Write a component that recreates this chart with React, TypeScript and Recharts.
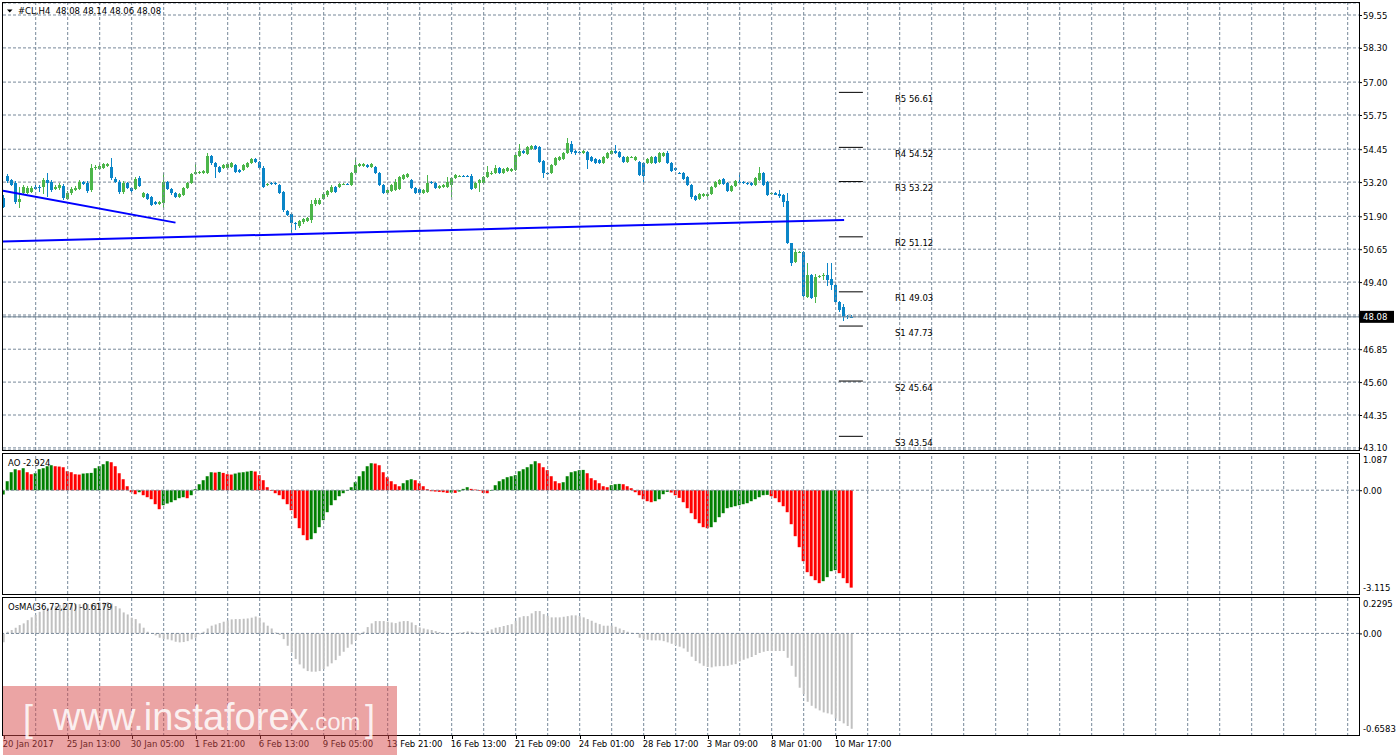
import React from "react";
import {
  ComposedChart,
  Bar,
  Cell,
  XAxis,
  YAxis,
  CartesianGrid,
  ReferenceLine,
  ReferenceDot,
} from "recharts";

// #CL H4 candles, oldest first: [open, high, low, close]
const ohlc: number[][] = [
  [52.6, 52.71, 52.22, 52.25], [53.43, 53.51, 53.17, 53.24], [53.28, 53.32, 53.05, 53.09], [53.17, 53.24, 52.37, 52.44],
  [52.44, 53.01, 52.22, 52.56], [52.79, 53.09, 52.71, 53.01], [52.79, 53.05, 52.75, 52.98], [52.82, 53.05, 52.79, 52.98],
  [53.01, 53.09, 52.9, 52.94], [53.01, 53.09, 52.82, 52.98], [53.01, 53.36, 52.75, 53.28], [53.28, 53.55, 52.63, 53.17],
  [53.2, 53.28, 52.82, 52.9], [52.94, 53.09, 52.9, 53.01], [52.98, 53.17, 52.9, 53.09], [53.05, 53.13, 52.52, 52.6],
  [52.56, 52.86, 52.52, 52.79], [52.79, 53.01, 52.71, 52.94], [52.9, 53.05, 52.86, 52.98], [52.94, 53.28, 52.9, 53.2],
  [53.2, 53.24, 53.09, 53.13], [53.17, 53.24, 52.79, 52.86], [52.9, 53.89, 52.82, 53.74], [53.74, 53.85, 53.66, 53.77],
  [53.7, 53.89, 53.66, 53.81], [53.74, 53.93, 53.7, 53.89], [53.81, 53.93, 53.77, 53.89], [53.77, 54.12, 53.28, 53.36],
  [53.32, 53.39, 53.17, 53.2], [53.2, 53.28, 52.75, 52.82], [52.82, 53.24, 52.75, 53.17], [53.17, 53.2, 52.94, 52.98],
  [52.98, 53.01, 52.79, 52.86], [52.94, 53.39, 52.9, 53.32], [53.36, 53.43, 53.01, 53.05], [52.63, 52.82, 52.6, 52.79],
  [52.75, 52.79, 52.52, 52.56], [52.63, 52.67, 52.29, 52.33], [52.44, 52.48, 52.33, 52.37], [52.37, 52.48, 52.33, 52.44],
  [52.41, 53.55, 52.22, 53.2], [53.2, 53.24, 52.9, 52.94], [52.94, 52.98, 52.71, 52.79], [52.79, 52.82, 52.6, 52.63],
  [52.63, 52.79, 52.6, 52.75], [52.71, 53.01, 52.67, 52.98], [52.98, 53.2, 52.94, 53.17], [53.17, 53.55, 53.13, 53.51],
  [53.51, 53.89, 53.47, 53.58], [53.58, 53.62, 53.51, 53.59], [53.55, 53.66, 53.51, 53.62], [53.55, 54.31, 53.51, 54.19],
  [54.19, 54.23, 53.85, 53.93], [53.93, 53.96, 53.36, 53.77], [53.77, 53.81, 53.55, 53.58], [53.74, 53.89, 53.7, 53.85],
  [53.74, 53.93, 53.7, 53.89], [53.77, 53.96, 53.74, 53.93], [53.85, 53.89, 53.55, 53.58], [53.66, 53.7, 53.55, 53.58],
  [53.66, 53.89, 53.62, 53.85], [53.77, 53.96, 53.74, 53.93], [53.93, 54.12, 53.89, 54.08], [54.08, 54.12, 53.93, 53.96],
  [53.96, 54.0, 53.7, 53.74], [53.74, 53.81, 52.98, 53.01], [53.09, 53.17, 53.05, 53.13], [53.17, 53.2, 53.09, 53.13],
  [53.17, 53.2, 53.09, 53.13], [53.09, 53.13, 52.75, 52.79], [52.82, 52.86, 52.06, 52.14], [52.1, 52.14, 51.91, 51.95],
  [51.99, 52.03, 51.27, 51.65], [51.65, 51.68, 51.38, 51.61], [51.53, 51.76, 51.46, 51.72], [51.68, 51.84, 51.61, 51.8],
  [51.72, 51.87, 51.68, 51.84], [51.76, 52.52, 51.65, 52.37], [52.37, 52.6, 52.29, 52.52], [52.37, 52.6, 52.33, 52.52],
  [52.56, 52.82, 52.52, 52.75], [52.71, 52.9, 52.63, 52.86], [52.82, 53.09, 52.79, 53.01], [53.01, 53.05, 52.79, 52.82],
  [53.01, 53.17, 52.98, 53.13], [53.13, 53.17, 53.09, 53.14], [53.13, 53.17, 53.09, 53.12], [53.09, 53.58, 53.05, 53.55],
  [53.55, 54.12, 53.51, 53.85], [53.81, 53.93, 53.77, 53.89], [53.81, 53.93, 53.77, 53.89], [53.85, 53.89, 53.74, 53.77],
  [53.77, 53.93, 53.74, 53.89], [53.77, 53.81, 53.51, 53.55], [53.55, 53.58, 53.05, 53.09], [53.09, 53.13, 52.75, 52.79],
  [52.79, 52.94, 52.75, 52.9], [52.86, 53.13, 52.82, 53.09], [52.9, 53.32, 52.86, 53.2], [52.94, 53.43, 52.9, 53.39],
  [53.32, 53.51, 53.28, 53.47], [53.39, 53.55, 53.36, 53.51], [53.28, 53.32, 52.94, 52.98], [52.98, 53.01, 52.75, 52.79],
  [52.94, 52.98, 52.71, 52.79], [52.79, 52.94, 52.75, 52.9], [52.82, 53.47, 52.79, 53.17], [53.2, 53.24, 53.13, 53.17],
  [53.17, 53.2, 52.94, 52.98], [52.98, 53.09, 52.94, 53.05], [53.01, 53.13, 52.98, 53.09], [53.01, 53.39, 52.98, 53.2],
  [53.09, 53.39, 52.63, 53.36], [53.36, 53.51, 53.32, 53.47], [53.43, 53.47, 53.39, 53.44], [53.43, 53.47, 53.39, 53.42],
  [53.43, 53.47, 53.39, 53.42], [53.43, 53.51, 52.9, 52.94], [52.98, 53.2, 52.94, 53.17], [53.17, 53.32, 52.82, 53.28],
  [53.17, 53.43, 53.13, 53.39], [53.39, 53.81, 53.36, 53.58], [53.55, 53.62, 53.47, 53.56], [53.55, 53.85, 53.51, 53.74],
  [53.74, 53.77, 53.51, 53.55], [53.55, 53.74, 53.51, 53.7], [53.62, 53.77, 53.58, 53.74], [53.62, 53.74, 53.58, 53.7],
  [53.66, 54.27, 53.62, 54.23], [54.19, 54.65, 54.15, 54.38], [54.38, 54.42, 54.27, 54.31], [54.27, 54.57, 54.23, 54.53],
  [54.46, 54.61, 54.42, 54.57], [54.57, 54.61, 54.42, 54.46], [54.53, 54.57, 53.93, 53.96], [54.0, 54.04, 53.36, 53.55],
  [53.55, 53.58, 53.47, 53.54], [53.55, 53.89, 53.51, 53.85], [53.85, 54.15, 53.81, 54.12], [54.04, 54.19, 54.0, 54.15],
  [54.08, 54.34, 54.04, 54.31], [54.31, 54.88, 54.27, 54.69], [54.65, 54.76, 54.27, 54.34], [54.38, 54.42, 54.23, 54.31],
  [54.34, 54.38, 54.27, 54.3], [54.31, 54.42, 54.27, 54.38], [54.34, 54.38, 53.7, 54.04], [54.15, 54.19, 53.96, 54.0],
  [54.08, 54.12, 53.89, 53.93], [54.04, 54.08, 53.89, 53.93], [53.93, 54.19, 53.89, 54.15], [54.12, 54.34, 54.08, 54.31],
  [54.27, 54.42, 54.23, 54.38], [54.38, 54.61, 54.27, 54.31], [54.34, 54.38, 54.12, 54.15], [54.15, 54.19, 53.93, 53.96],
  [53.96, 54.19, 53.93, 54.15], [54.15, 54.19, 54.12, 54.16], [54.04, 54.19, 54.0, 54.15], [53.96, 54.0, 53.43, 53.47],
  [53.93, 53.96, 53.17, 53.43], [53.93, 54.12, 53.89, 54.08], [53.93, 54.19, 53.89, 54.15], [54.15, 54.19, 53.89, 53.93],
  [53.96, 54.34, 53.93, 54.31], [54.19, 54.34, 54.15, 54.31], [54.31, 54.38, 53.89, 53.93], [53.93, 53.96, 53.58, 53.62],
  [53.74, 53.77, 53.62, 53.66], [53.55, 53.58, 53.51, 53.54], [53.55, 53.58, 53.28, 53.32], [53.39, 53.43, 53.05, 53.09],
  [53.09, 53.13, 52.56, 52.63], [52.67, 52.71, 52.48, 52.52], [52.56, 52.79, 52.52, 52.75], [52.67, 52.79, 52.63, 52.75],
  [52.67, 52.79, 52.63, 52.75], [52.75, 53.05, 52.71, 53.01], [53.01, 53.24, 52.98, 53.2], [53.13, 53.32, 53.09, 53.28],
  [53.32, 53.36, 53.09, 53.13], [53.17, 53.2, 52.82, 52.86], [52.86, 53.09, 52.82, 53.05], [53.05, 53.28, 53.01, 53.24],
  [53.2, 53.55, 53.13, 53.17], [53.2, 53.24, 53.13, 53.17], [53.17, 53.2, 53.09, 53.13], [53.17, 53.2, 53.05, 53.09],
  [53.09, 53.39, 53.05, 53.36], [53.28, 53.77, 53.24, 53.55], [53.55, 53.58, 53.05, 53.09], [53.2, 53.24, 52.67, 52.71],
  [52.75, 52.82, 52.71, 52.79], [52.79, 52.82, 52.71, 52.71], [52.75, 52.9, 52.6, 52.67], [52.71, 52.75, 52.25, 52.44],
  [52.48, 52.79, 50.85, 50.89], [50.89, 50.89, 50.01, 50.13], [50.16, 50.66, 50.13, 50.54], [50.54, 50.58, 50.51, 50.55],
  [50.54, 50.58, 48.83, 48.87], [48.83, 50.13, 48.8, 49.67], [49.67, 49.71, 48.76, 48.8], [48.83, 49.71, 48.61, 49.59],
  [49.59, 49.67, 49.56, 49.63], [49.63, 49.75, 49.48, 49.67], [49.67, 50.13, 49.25, 49.48], [49.52, 50.13, 49.1, 49.29],
  [49.29, 49.33, 48.61, 48.64], [48.64, 48.68, 48.26, 48.34], [48.45, 48.57, 47.92, 48.08], [48.11, 48.15, 48.0, 48.08],
  [48.08, 48.14, 48.06, 48.08],
];

// Awesome Oscillator, one value per candle
const ao: number[] = [
  -0.13, 0.27, 0.54, 0.63, 0.6, 0.66, 0.54, 0.48, 0.51, 0.63,
  0.66, 0.72, 0.75, 0.72, 0.71, 0.69, 0.57, 0.54, 0.48, 0.47,
  0.5, 0.51, 0.52, 0.66, 0.72, 0.78, 0.87, 0.84, 0.72, 0.51,
  0.33, 0.12, -0.06, -0.12, -0.06, -0.15, -0.21, -0.27, -0.42, -0.57,
  -0.45, -0.4, -0.36, -0.3, -0.24, -0.21, -0.24, -0.15, 0.03, 0.18,
  0.3, 0.42, 0.54, 0.53, 0.55, 0.52, 0.48, 0.47, 0.5, 0.53,
  0.54, 0.56, 0.58, 0.56, 0.45, 0.3, 0.09, -0.02, -0.09, -0.15,
  -0.27, -0.42, -0.6, -0.84, -1.14, -1.35, -1.5, -1.47, -1.29, -1.11,
  -0.9, -0.66, -0.45, -0.3, -0.18, -0.09, -0.02, 0.09, 0.24, 0.42,
  0.57, 0.72, 0.81, 0.8, 0.75, 0.54, 0.39, 0.27, 0.18, 0.12,
  0.21, 0.3, 0.33, 0.3, 0.21, 0.12, 0.03, -0.03, -0.04, -0.05,
  -0.06, -0.08, -0.07, -0.08, -0.04, 0.04, 0.09, 0.04, 0.02, -0.02,
  -0.08, -0.09, -0.02, 0.15, 0.27, 0.33, 0.39, 0.42, 0.45, 0.57,
  0.63, 0.69, 0.78, 0.87, 0.81, 0.69, 0.6, 0.42, 0.27, 0.21,
  0.24, 0.42, 0.54, 0.57, 0.6, 0.61, 0.51, 0.36, 0.3, 0.21,
  0.12, 0.09, 0.15, 0.18, 0.19, 0.18, 0.12, 0.06, -0.06, -0.15,
  -0.27, -0.33, -0.36, -0.33, -0.27, -0.12, -0.05, -0.07, -0.15, -0.23,
  -0.36, -0.54, -0.69, -0.87, -0.99, -1.11, -1.14, -1.11, -0.96, -0.81,
  -0.69, -0.54, -0.51, -0.48, -0.45, -0.42, -0.39, -0.33, -0.27, -0.21,
  -0.15, -0.14, -0.18, -0.24, -0.36, -0.48, -0.66, -1.02, -1.38, -1.71,
  -2.13, -2.46, -2.58, -2.7, -2.79, -2.73, -2.61, -2.43, -2.4, -2.49,
  -2.64, -2.79, -2.924,
];

// OsMA(36,72,27), one value per candle
const osma: number[] = [
  -0.058, 0.011, 0.022, 0.037, 0.054, 0.065, 0.086, 0.104, 0.119, 0.14,
  0.151, 0.166, 0.173, 0.179, 0.184, 0.188, 0.19, 0.192, 0.19, 0.19,
  0.19, 0.19, 0.19, 0.194, 0.201, 0.201, 0.203, 0.194, 0.177, 0.162,
  0.136, 0.123, 0.102, 0.093, 0.065, 0.037, 0.011, 0.0, -0.013, -0.028,
  -0.035, -0.039, -0.045, -0.054, -0.058, -0.056, -0.05, -0.039, -0.028, -0.006,
  0.011, 0.032, 0.05, 0.058, 0.067, 0.076, 0.084, 0.091, 0.093, 0.093,
  0.095, 0.097, 0.102, 0.11, 0.102, 0.071, 0.05, 0.032, 0.006, -0.01,
  -0.037, -0.08, -0.123, -0.166, -0.201, -0.227, -0.244, -0.248, -0.248, -0.244,
  -0.231, -0.214, -0.194, -0.173, -0.145, -0.119, -0.093, -0.071, -0.043, -0.011,
  0.011, 0.041, 0.065, 0.08, 0.08, 0.08, 0.076, 0.071, 0.067, 0.076,
  0.08, 0.08, 0.071, 0.054, 0.039, 0.032, 0.026, 0.022, 0.015, 0.009,
  0.004, -0.002, 0.0, 0.002, 0.006, 0.009, 0.013, 0.011, 0.006, 0.004,
  0.006, 0.015, 0.026, 0.037, 0.041, 0.048, 0.054, 0.06, 0.082, 0.104,
  0.112, 0.112, 0.13, 0.145, 0.145, 0.125, 0.114, 0.104, 0.104, 0.104,
  0.108, 0.112, 0.117, 0.117, 0.112, 0.104, 0.093, 0.082, 0.069, 0.06,
  0.05, 0.05, 0.05, 0.043, 0.032, 0.022, 0.011, 0.004, -0.002, -0.028,
  -0.037, -0.041, -0.045, -0.045, -0.045, -0.05, -0.058, -0.067, -0.076, -0.086,
  -0.097, -0.119, -0.151, -0.179, -0.194, -0.21, -0.218, -0.22, -0.214, -0.212,
  -0.212, -0.21, -0.203, -0.199, -0.181, -0.171, -0.162, -0.153, -0.14, -0.127,
  -0.119, -0.114, -0.114, -0.114, -0.114, -0.114, -0.158, -0.21, -0.281, -0.352,
  -0.393, -0.443, -0.469, -0.486, -0.499, -0.512, -0.518, -0.525, -0.551, -0.568,
  -0.583, -0.6, -0.618,
];

const priceTicks = [59.55, 58.3, 57.0, 55.75, 54.45, 53.2, 51.9, 50.65, 49.4, 48.15, 46.85, 45.6, 44.35, 43.1];
const hiddenPriceTick = 48.15;
const lastPrice = 48.08;

const pivotNames = ["R5", "R4", "R3", "R2", "R1", "S1", "S2", "S3"];
const pivotLevels = [56.61, 54.52, 53.22, 51.12, 49.03, 47.73, 45.64, 43.54];
const pivotFrom = 208.8;
const pivotTo = 214.8;

// trend lines as [bar index, price] anchors
const trendA = [{ x: -0.175, y: 52.87 }, { x: 42.95, y: 51.66 }];
const trendB = [{ x: -0.175, y: 50.94 }, { x: 210.1, y: 51.76 }];

const timeIdx = [0, 16, 32, 48, 64, 80, 96, 112, 128, 144, 160, 176, 192, 208];
const timeLabels = [
  "20 Jan 2017", "25 Jan 13:00", "30 Jan 05:00", "1 Feb 21:00", "6 Feb 13:00", "9 Feb 05:00", "13 Feb 21:00",
  "16 Feb 13:00", "21 Feb 09:00", "24 Feb 01:00", "28 Feb 17:00", "3 Mar 09:00", "8 Mar 01:00", "10 Mar 17:00",
];
const gridIdx = Array.from({ length: 42 }, (_, k) => 8 * (k + 1));

const X_MIN = -0.175;
const X_MAX = 338.825;
const P_MIN = 43.02;
const P_MAX = 60.006;
const AO_MAX = 1.087;
const AO_MIN = -3.115;
const OS_MAX = 0.2295;
const OS_MIN = -0.6583;

const FONT = "DejaVu Sans";
const GRID = "#778899";
const BULL = "#4CB64A";
const BEAR = "#0A85C7";

const candles = ohlc.map(([o, h, l, c], i) => ({ i, o, h, l, c, range: [l, h] }));
const aoRows = ao.map((v, i) => ({ i, v, up: i === 0 || v >= ao[i - 1] }));
const osRows = osma.map((v, i) => ({ i, v }));

const Candle = (props: any) => {
  const { x, y, width, height, payload } = props;
  if (!payload || !height) return null;
  const { o, h, l, c } = payload;
  const k = height / (h - l);
  const yOf = (v: number) => y + (h - v) * k;
  const cx = Math.round(x + width / 2);
  const top = yOf(Math.max(o, c));
  const bot = yOf(Math.min(o, c));
  const color = c > o ? BULL : BEAR;
  return (
    <g shapeRendering="crispEdges">
      <line x1={cx + 0.5} x2={cx + 0.5} y1={y} y2={y + height} stroke={color} strokeWidth={1} />
      <rect x={cx - 1} y={Math.round(top)} width={3} height={Math.max(1, Math.round(bot - top))} fill={color} />
    </g>
  );
};

const PriceTick = (props: any) => {
  const { x, y, payload } = props;
  const v = payload.value;
  if (v === hiddenPriceTick) return <g />;
  if (v === lastPrice) {
    return (
      <g>
        <rect x={x + 1} y={y - 6} width={34} height={12} fill="#000" />
        <text x={x + 4} y={y + 3.5} fill="#fff" fontSize={8.5} fontFamily={FONT}>
          {v.toFixed(2)}
        </text>
      </g>
    );
  }
  return (
    <g>
      <line x1={x} x2={x + 3} y1={y + 0.5} y2={y + 0.5} stroke="#000" />
      <text x={x + 4} y={y + 3.5} fill="#000" fontSize={8.5} fontFamily={FONT}>
        {v.toFixed(2)}
      </text>
    </g>
  );
};

const makeSideTick = (top: number, bottom: number, digits: (v: number) => string) => (props: any) => {
  const { x, y, payload } = props;
  const v = payload.value;
  const dy = v === top ? 9 : v === bottom ? -3 : 3.5;
  return (
    <g>
      {v === 0 && <line x1={x} x2={x + 3} y1={y + 0.5} y2={y + 0.5} stroke="#000" />}
      <text x={x + 4} y={y + dy} fill="#000" fontSize={8.5} fontFamily={FONT}>
        {digits(v)}
      </text>
    </g>
  );
};

const AoTick = makeSideTick(AO_MAX, AO_MIN, (v) => (v === 0 ? "0.00" : v.toFixed(3)));
const OsTick = makeSideTick(OS_MAX, OS_MIN, (v) => (v === 0 ? "0.00" : v.toFixed(4)));

const TimeTick = (props: any) => {
  const { x, y, payload } = props;
  const k = timeIdx.indexOf(payload.value);
  if (k < 0) return <g />;
  return (
    <g>
      <line x1={Math.round(x) + 0.5} x2={Math.round(x) + 0.5} y1={y} y2={y + 4} stroke="#000" />
      <text x={x - 1} y={y + 12} fill="#000" fontSize={8.5} fontFamily={FONT}>
        {timeLabels[k]}
      </text>
    </g>
  );
};

const PivotLabel = (name: string, level: number) => (props: any) => (
  <text x={props.cx + 56} y={props.cy + 9.5} fill="#000" fontSize={8.5} fontFamily={FONT}>
    {`${name} ${level.toFixed(2)}`}
  </text>
);

const Box = ({ top, height }: { top: number; height: number }) => (
  <div
    style={{
      position: "absolute",
      left: 2,
      top,
      width: 1356,
      height,
      border: "1px solid #000",
      pointerEvents: "none",
    }}
  />
);

// dashed vertical grid every 8 bars, shared by the upper panels
const vGrid = (prefix: string) =>
  gridIdx.map((g) => (
    <ReferenceLine key={`${prefix}${g}`} x={g} stroke={GRID} strokeDasharray="3 2" />
  ));

export default function App() {
  return (
    <div
      style={{
        position: "absolute",
        left: 0,
        top: 0,
        width: 1398,
        height: 755,
        background: "#fff",
        overflow: "hidden",
        fontFamily: FONT,
      }}
    >
      <div style={{ position: "absolute", left: 0, top: 0 }}>
        <ComposedChart width={1398} height={452} data={candles} margin={{ top: 3, right: 0, bottom: 2, left: 3 }}>
          <CartesianGrid stroke={GRID} strokeDasharray="3 2" vertical={false} />
          <XAxis
            dataKey="i"
            type="number"
            domain={[X_MIN, X_MAX]}
            ticks={gridIdx}
            interval={0}
            tick={false}
            axisLine={false}
            tickLine={false}
            height={0}
            allowDataOverflow
          />
          <YAxis
            orientation="right"
            width={39}
            domain={[P_MIN, P_MAX]}
            ticks={[...priceTicks, lastPrice]}
            interval={0}
            tick={<PriceTick />}
            axisLine={false}
            tickLine={false}
            tickSize={0}
            tickMargin={0}
            allowDataOverflow
          />
          {vGrid("m")}
          <ReferenceLine y={lastPrice} stroke={GRID} strokeWidth={1} />
          <ReferenceLine segment={trendA} stroke="#0000FF" strokeWidth={2} />
          <ReferenceLine segment={trendB} stroke="#0000FF" strokeWidth={2} />
          {pivotLevels.map((p, k) => (
            <ReferenceLine
              key={`pl${k}`}
              segment={[{ x: pivotFrom, y: p }, { x: pivotTo, y: p }]}
              stroke="#000"
              strokeWidth={1}
            />
          ))}
          {pivotLevels.map((p, k) => (
            <ReferenceDot key={`pd${k}`} x={pivotFrom} y={p} r={0} shape={PivotLabel(pivotNames[k], p)} />
          ))}
          <Bar dataKey="range" shape={<Candle />} barSize={3} isAnimationActive={false} />
        </ComposedChart>
      </div>

      <div style={{ position: "absolute", left: 0, top: 451 }}>
        <ComposedChart width={1398} height={145} data={aoRows} margin={{ top: 3, right: 0, bottom: 2, left: 3 }}>
          <XAxis
            dataKey="i"
            type="number"
            domain={[X_MIN, X_MAX]}
            ticks={gridIdx}
            interval={0}
            tick={false}
            axisLine={false}
            tickLine={false}
            height={0}
            allowDataOverflow
          />
          <YAxis
            orientation="right"
            width={39}
            domain={[AO_MIN, AO_MAX]}
            ticks={[AO_MAX, 0, AO_MIN]}
            interval={0}
            tick={<AoTick />}
            axisLine={false}
            tickLine={false}
            tickSize={0}
            tickMargin={0}
            allowDataOverflow
          />
          {vGrid("a")}
          <ReferenceLine y={0} stroke={GRID} strokeDasharray="3 2" />
          <Bar dataKey="v" barSize={3} isAnimationActive={false}>
            {aoRows.map((r) => (
              <Cell key={r.i} fill={r.up ? "#008000" : "#FF0000"} />
            ))}
          </Bar>
        </ComposedChart>
      </div>

      <div style={{ position: "absolute", left: 0, top: 595 }}>
        <ComposedChart width={1398} height={160} data={osRows} margin={{ top: 3, right: 0, bottom: 0, left: 3 }}>
          <CartesianGrid stroke={GRID} strokeDasharray="3 2" horizontal={false} verticalValues={gridIdx} />
          <XAxis
            dataKey="i"
            type="number"
            domain={[X_MIN, X_MAX]}
            ticks={timeIdx}
            interval={0}
            tick={<TimeTick />}
            axisLine={false}
            tickLine={false}
            tickSize={0}
            tickMargin={0}
            height={20}
            allowDataOverflow
          />
          <YAxis
            orientation="right"
            width={39}
            domain={[OS_MIN, OS_MAX]}
            ticks={[OS_MAX, 0, OS_MIN]}
            interval={0}
            tick={<OsTick />}
            axisLine={false}
            tickLine={false}
            tickSize={0}
            tickMargin={0}
            allowDataOverflow
          />
          <ReferenceLine y={0} stroke={GRID} strokeDasharray="3 2" />
          <Bar dataKey="v" barSize={2} fill="#C0C0C0" isAnimationActive={false} />
        </ComposedChart>
      </div>

      <Box top={2} height={447} />
      <Box top={453} height={140} />
      <Box top={597} height={137} />

      <svg width={1398} height={755} style={{ position: "absolute", left: 0, top: 0, pointerEvents: "none" }}>
        <polygon points="7,9.5 12.5,9.5 9.75,12.5" fill="#000" />
        <text x={18} y={13.5} fontSize={8.5} fontFamily={FONT} fill="#000">
          {"#CL,H4\u00a0\u00a048.08 48.14 48.06 48.08"}
        </text>
        <text x={8} y={465.5} fontSize={8.5} fontFamily={FONT} fill="#000">
          AO -2.924
        </text>
        <text x={8} y={609.5} fontSize={8.5} fontFamily={FONT} fill="#000">
          OsMA(36,72,27) -0.6179
        </text>
      </svg>

      <div
        style={{
          position: "absolute",
          left: 3,
          top: 686,
          width: 394,
          height: 69,
          background: "rgba(215, 73, 73, 0.5)",
        }}
      >
        <svg width={394} height={69}>
          <g fill="rgba(255,255,255,0.85)" fontFamily="Liberation Sans">
            <text x={20} y={45} fontSize={36}>[</text>
            <text x={50} y={44} fontSize={38}>
              www.instaforex<tspan fontSize={24}>.com</tspan>
            </text>
            <text x={362} y={45} fontSize={36}>]</text>
          </g>
        </svg>
      </div>
    </div>
  );
}
